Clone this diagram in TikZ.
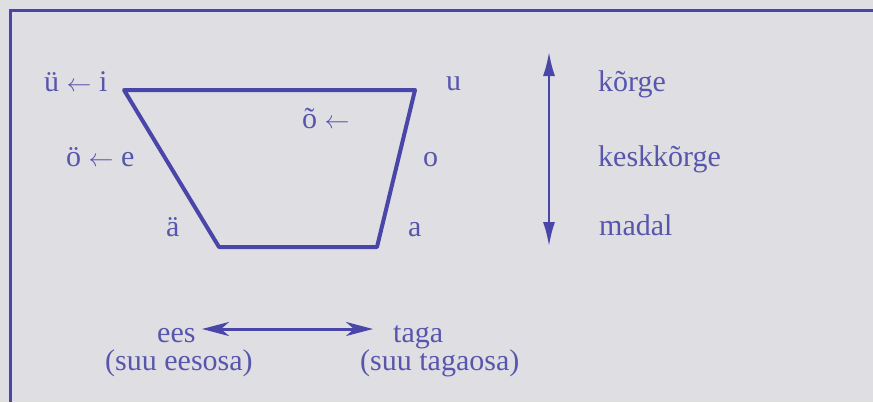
\documentclass[tikz,border=0pt]{standalone}
\usepackage{fontspec}
\setmainfont{Liberation Serif}
\usetikzlibrary{positioning, arrows.meta}
\definecolor{ink}{HTML}{4A45A8}
\definecolor{inktext}{HTML}{5856AC}
\definecolor{paper}{HTML}{DFDFE3}

\begin{document}
\begin{tikzpicture}[x=1pt, y=-1pt, font=\fontsize{30}{35}\selectfont,
    lbl/.style={anchor=base west, inner sep=0pt, text=inktext},
    edge/.style={ink, line width=4pt, line join=round},
    axis/.style={ink, line width=2.5pt}]
  \useasboundingbox (0,0) rectangle (873,402);
  \fill[paper] (0,0) rectangle (873,402);
  % frame of the box (cut off at right and bottom)
  \draw[ink, line width=3pt] (10,402) -- (10,10) -- (873,10);

  % corners of the vowel trapezoid
  \coordinate (tl) at (124,90);
  \coordinate (tr) at (415,90);
  \coordinate (br) at (377,247);
  \coordinate (bl) at (219,247);
  \draw[edge] (tl) -- (tr) -- (br) -- (bl) -- cycle;

  % vowels
  \node[lbl] (i)  at (44,91)   {ü $\leftarrow$ i};
  \node[lbl] (u)  at (446,90)  {u};
  \node[lbl] (oo) at (302,128) {õ $\leftarrow$};
  \node[lbl] (e)  at (66,166)  {ö $\leftarrow$ e};
  \node[lbl] (o)  at (423,166) {o};
  \node[lbl] (ae) at (166,236) {ä};
  \node[lbl] (a)  at (408,236) {a};

  % height scale
  \coordinate (top) at (549,52);
  \coordinate (bot) at (549,246);
  \draw[axis, line width=2pt, {Latex[length=24pt, width=12pt]}-{Latex[length=24pt, width=12pt]}] (bot) -- (top);
  \node[lbl] (hi)  at (598,91)  {kõrge};
  \node[lbl] (mid) at (598,166) {keskkõrge};
  \node[lbl] (lo)  at (599,235) {madal};

  % front -- back
  \node[lbl] (ees)  at (157,342) {ees};
  \node[lbl] (taga) at (393,342) {taga};
  \node[lbl] (eesosa)  at (105,370) {(suu eesosa)};
  \node[lbl] (tagaosa) at (360,370) {(suu tagaosa)};
  \coordinate (fr) at (202,329);
  \coordinate (bk) at (373,329);
  \draw[axis, line width=3pt, {Stealth[length=27pt, width=14pt, inset=8pt]}-{Stealth[length=27pt, width=14pt, inset=8pt]}] (fr) -- (bk);
\end{tikzpicture}
\end{document}
